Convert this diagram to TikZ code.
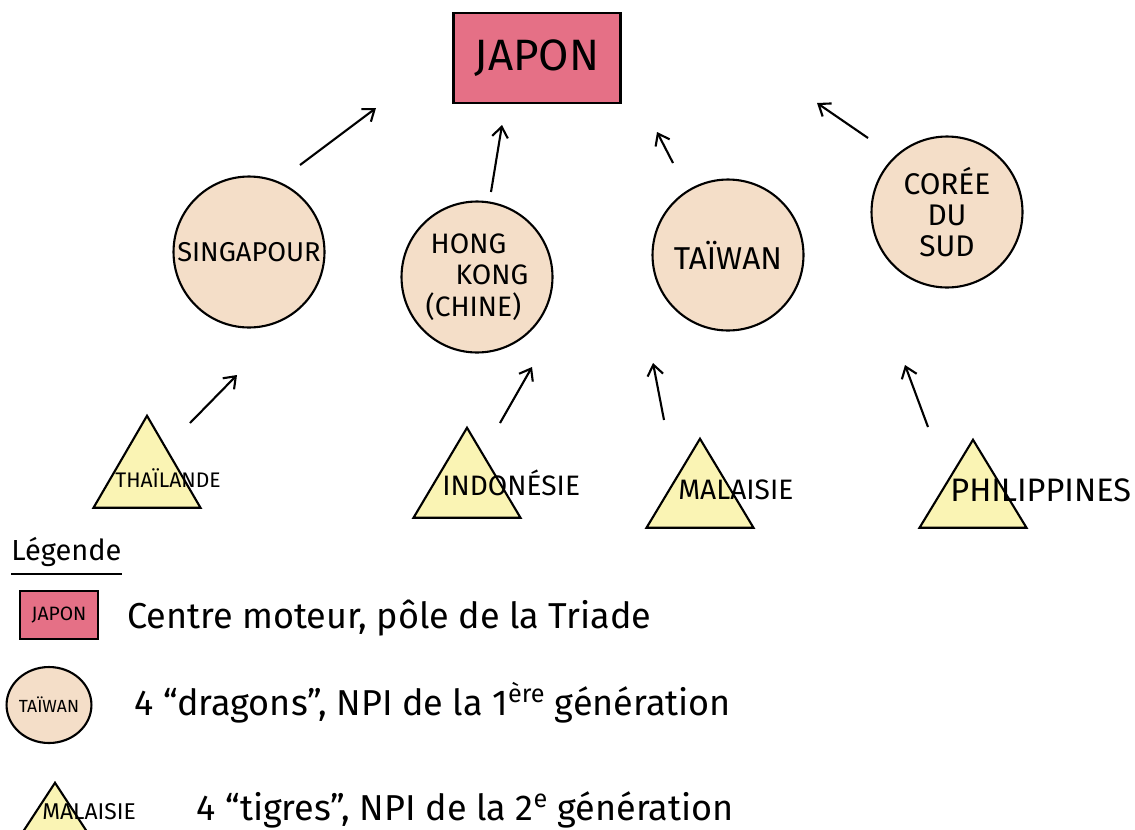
\documentclass[tikz,border=0pt]{standalone}
\usepackage{fontspec}
\setmainfont{Fira Sans}
\usetikzlibrary{shapes.geometric, arrows, arrows.meta, positioning, calc}

\definecolor{japonred}{RGB}{229,112,134}
\definecolor{dragonfill}{RGB}{244,222,200}
\definecolor{tigrefill}{RGB}{250,244,180}

\begin{document}
\begin{tikzpicture}[x=0.02cm, y=-0.02cm,
    pole/.style={draw, line width=1.6pt, fill=japonred, minimum width=3.34cm, minimum height=1.8cm, font=\fontsize{25}{28}\selectfont},
    dragon/.style={circle, draw, line width=1.2pt, fill=dragonfill, minimum size=3.02cm, align=center, inner sep=0pt, font=\fontsize{16}{18}\selectfont},
    tigre/.style={isosceles triangle, isosceles triangle stretches, shape border rotate=90, draw, line width=1.2pt, fill=tigrefill, anchor=apex, inner sep=0pt, minimum width=2.14cm, minimum height=1.8cm},
    tlabel/.style={anchor=west, inner sep=0pt, font=\fontsize{16}{18}\selectfont},
    arr/.style={-{Straight Barb[length=6pt, width=9pt]}, line width=1.2pt},
    legtext/.style={anchor=west, inner sep=0pt, font=\fontsize{20.5}{24}\selectfont}]
    \useasboundingbox (0,0) rectangle (1135,829); % Page frame

    \node[pole] (japon) at (537,58) {JAPON}; % Centre moteur

    \node[dragon, font=\fontsize{15.5}{18}\selectfont] (sing) at (249,252) {SINGAPOUR}; % First dragon
    \node[dragon, align=left] (hk) at (477,277) {\hspace*{0.1cm}HONG\\\hspace*{0.6cm}KONG\\(CHINE)}; % Second dragon
    \node[dragon, font=\fontsize{18}{20}\selectfont] (taiwan) at (728,255) {TAÏWAN}; % Third dragon
    \node[dragon, font=\fontsize{17}{17.6}\selectfont] (coree) at (947,212) {CORÉE\\DU\\SUD}; % Fourth dragon

    \node[tigre, minimum height=1.84cm] (thai) at (147,413) {}; % First tiger
    \node[tigre] (indo) at (467,425) {}; % Second tiger
    \node[tigre, minimum height=1.78cm] (mala) at (700,436) {}; % Third tiger
    \node[tigre, minimum height=1.76cm] (phil) at (973,437) {}; % Fourth tiger

    \node[tlabel, font=\fontsize{12}{14}\selectfont] (thaitext) at (115,478) {THAÏLANDE};
    \node[tlabel] (indotext) at (442,483) {INDONÉSIE};
    \node[tlabel] (malatext) at (678,490) {MALAISIE};
    \node[tlabel, font=\fontsize{18.5}{20}\selectfont] (philtext) at (950,490) {PHILIPPINES};

    % Arrow ends, free in the air
    \coordinate (singout) at (300,165);
    \coordinate (singin) at (376,108);
    \coordinate (hkout) at (491,192);
    \coordinate (hkin) at (502,125);
    \coordinate (taiwanout) at (673,163);
    \coordinate (taiwanin) at (657,132);
    \coordinate (coreeout) at (868,138);
    \coordinate (coreein) at (817,103);
    \coordinate (thaiout) at (190,423);
    \coordinate (thaiin) at (237,375);
    \coordinate (indoout) at (500,423);
    \coordinate (indoin) at (532,367);
    \coordinate (malaout) at (664,420);
    \coordinate (malain) at (653,363);
    \coordinate (philout) at (928,427);
    \coordinate (philin) at (905,365);

    \draw[arr] (singout) -- (singin);
    \draw[arr] (hkout) -- (hkin);
    \draw[arr] (taiwanout) -- (taiwanin);
    \draw[arr] (coreeout) -- (coreein);
    \draw[arr] (thaiout) -- (thaiin);
    \draw[arr] (indoout) -- (indoin);
    \draw[arr] (malaout) -- (malain);
    \draw[arr] (philout) -- (philin);

    % Legend
    \node[legtext, font=\fontsize{16.5}{19}\selectfont] (legende) at (11,552) {Légende};
    \draw[line width=1.2pt] (11,574) -- (122,574); % Underline

    \node[pole, line width=1.4pt, minimum width=1.56cm, minimum height=0.96cm, inner sep=0pt, font=\fontsize{11}{12}\selectfont] (legjapon) at (59,615) {JAPON};
    \node[legtext] (legjapontext) at (127,618) {Centre moteur, pôle de la Triade};

    \node[dragon, ellipse, minimum size=0pt, minimum width=1.36cm, minimum height=1.52cm, font=\fontsize{10}{11}\selectfont] (legtaiwan) at (49,705) {TAÏWAN};
    \node[legtext] (legtaiwantext) at (134,703) {4 ``dragons'', NPI de la 1\textsuperscript{ère} génération};

    \node[tigre, minimum width=1.28cm, minimum height=0.98cm] (legmala) at (55,780) {};
    \node[tlabel, font=\fontsize{13}{14}\selectfont] (legmalatext) at (42,812) {MALAISIE};
    \node[legtext] (legmalatext2) at (196,810) {4 ``tigres'', NPI de la 2\textsuperscript{e} génération};
\end{tikzpicture}
\end{document}
